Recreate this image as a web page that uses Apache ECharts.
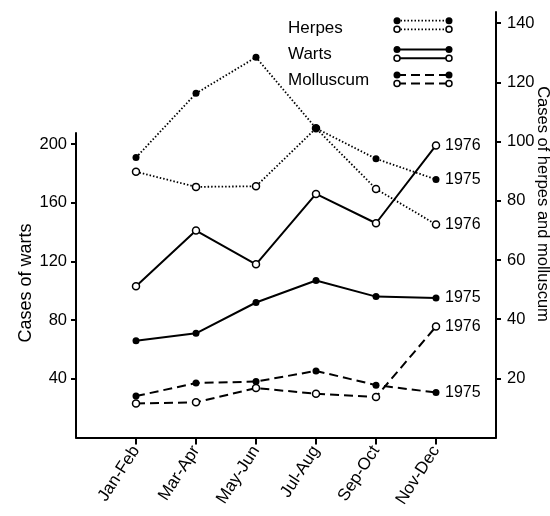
<!DOCTYPE html>
<html>
<head>
<meta charset="utf-8">
<script src="https://cdn.jsdelivr.net/npm/echarts@6/dist/echarts.min.js"></script>
<style>html,body{margin:0;padding:0;background:#fff}#c{width:550px;height:516px}</style>
</head>
<body>
<div id="c"></div>
<script>
// ---- data ----
const categories = ['Jan-Feb', 'Mar-Apr', 'May-Jun', 'Jul-Aug', 'Sep-Oct', 'Nov-Dec'];
const warts1975 = [66, 71, 92, 107, 96, 95];
const warts1976 = [103, 141, 118, 166, 146, 199];
const herpes1975 = [94.6, 116.3, 128.5, 104.5, 94.2, 87.2];
const herpes1976 = [89.8, 84.7, 84.9, 104.5, 84, 72];
const molluscum1975 = [14, 18.4, 18.9, 22.5, 17.7, 15.2];
const molluscum1976 = [11.5, 11.9, 16.7, 14.8, 13.7, 37.5];
const leftTicks = [40, 80, 120, 160, 200];
const rightTicks = [20, 40, 60, 80, 100, 120, 140];

const FONT = 'Liberation Sans';
const axisData = [''].concat(categories, [' ']);
const pairs = v => categories.map((c, i) => [c, v[i]]);
const isCat = (i, v) => v.trim() !== '';

const styles = {
  herpes: {type: [1.5, 2], width: 1.8},
  warts: {type: 'solid', width: 2},
  molluscum: {type: [9, 5], width: 2}
};

function mk(name, vals, kind, filled, gridIdx, year, z) {
  return {
    name: name, type: 'line', xAxisIndex: gridIdx, yAxisIndex: gridIdx,
    data: pairs(vals), symbol: 'circle', symbolSize: 7, showAllSymbol: true,
    z: z,
    lineStyle: Object.assign({color: '#000'}, styles[kind]),
    itemStyle: filled ? {color: '#000', borderWidth: 0} : {color: '#fff', borderColor: '#000', borderWidth: 1.5},
    emphasis: {disabled: true},
    endLabel: {show: true, formatter: year, distance: 9, color: '#000', fontSize: 16, fontFamily: FONT},
    labelLayout: {hideOverlap: false}
  };
}

// legend graphic
const legendRows = [
  {label: 'Herpes', kind: 'herpes', y1: 20.7, y2: 29.3, ty: 28.5},
  {label: 'Warts', kind: 'warts', y1: 49.5, y2: 58.3, ty: 54.5},
  {label: 'Molluscum', kind: 'molluscum', y1: 75, y2: 83.5, ty: 81}
];
const graphics = [];
legendRows.forEach(r => {
  graphics.push({type: 'text', left: 288, top: r.ty - 9, style: {text: r.label, fontSize: 17, fontFamily: FONT, fill: '#000'}});
  const ls = styles[r.kind];
  [r.y1, r.y2].forEach((yy, k) => {
    graphics.push({type: 'line', shape: {x1: 397, y1: yy, x2: 449, y2: yy},
      style: {stroke: '#000', lineWidth: ls.width, lineDash: ls.type === 'solid' ? null : ls.type}});
    [397, 449].forEach(xx => {
      graphics.push({type: 'circle', shape: {cx: xx, cy: yy, r: k === 0 ? 3.5 : 3},
        style: k === 0 ? {fill: '#000'} : {fill: '#fff', stroke: '#000', lineWidth: 1.5}, z: 10});
    });
  });
});
graphics.push({type: 'text', x: 26, y: 283, rotation: Math.PI / 2,
  style: {text: 'Cases of warts', fontSize: 18, fontFamily: FONT, fill: '#000', align: 'center', verticalAlign: 'middle'}});
graphics.push({type: 'text', x: 543, y: 204, rotation: -Math.PI / 2,
  style: {text: 'Cases of herpes and molluscum', fontSize: 16.5, fontFamily: FONT, fill: '#000', align: 'center', verticalAlign: 'middle'}});

const axisLine = {show: true, lineStyle: {color: '#000', width: 2}};
const option = {
  animation: false,
  backgroundColor: '#fff',
  grid: [
    {left: 76, right: 54, top: 133, bottom: 78.5},
    {left: 76, right: 54, top: 12, bottom: 78.5}
  ],
  xAxis: [
    {type: 'category', gridIndex: 0, data: axisData, boundaryGap: false,
      axisLine: axisLine,
      axisTick: {show: true, interval: isCat, length: 7, lineStyle: {color: '#000', width: 2}},
      axisLabel: {interval: isCat, rotate: 57, margin: 10, color: '#000', fontSize: 17, fontFamily: FONT},
      splitLine: {show: false}},
    {type: 'category', gridIndex: 1, data: axisData, boundaryGap: false, show: false}
  ],
  yAxis: [
    {type: 'value', gridIndex: 0, position: 'left', min: 0, max: 207.5,
      axisLine: axisLine,
      axisTick: {show: true, customValues: leftTicks, length: 5, lineStyle: {color: '#000', width: 2}},
      axisLabel: {customValues: leftTicks, margin: 9, color: '#000', fontSize: 16.5, fontFamily: FONT},
      splitLine: {show: false}},
    {type: 'value', gridIndex: 1, position: 'right', min: 0, max: 143.8,
      axisLine: axisLine,
      axisTick: {show: true, customValues: rightTicks, length: 5, lineStyle: {color: '#000', width: 2}},
      axisLabel: {customValues: rightTicks, margin: 11, color: '#000', fontSize: 16.5, fontFamily: FONT},
      splitLine: {show: false}}
  ],
  graphic: graphics,
  series: [
    mk('Herpes 1976', herpes1976, 'herpes', false, 1, '1976', 2),
    mk('Herpes 1975', herpes1975, 'herpes', true, 1, '1975', 3),
    mk('Warts 1976', warts1976, 'warts', false, 0, '1976', 2),
    mk('Warts 1975', warts1975, 'warts', true, 0, '1975', 3),
    mk('Molluscum 1976', molluscum1976, 'molluscum', false, 1, '1976', 2),
    mk('Molluscum 1975', molluscum1975, 'molluscum', true, 1, '1975', 3)
  ]
};
const chart = echarts.init(document.getElementById('c'), null, {renderer: 'canvas'});
chart.setOption(option);
</script>
</body>
</html>
